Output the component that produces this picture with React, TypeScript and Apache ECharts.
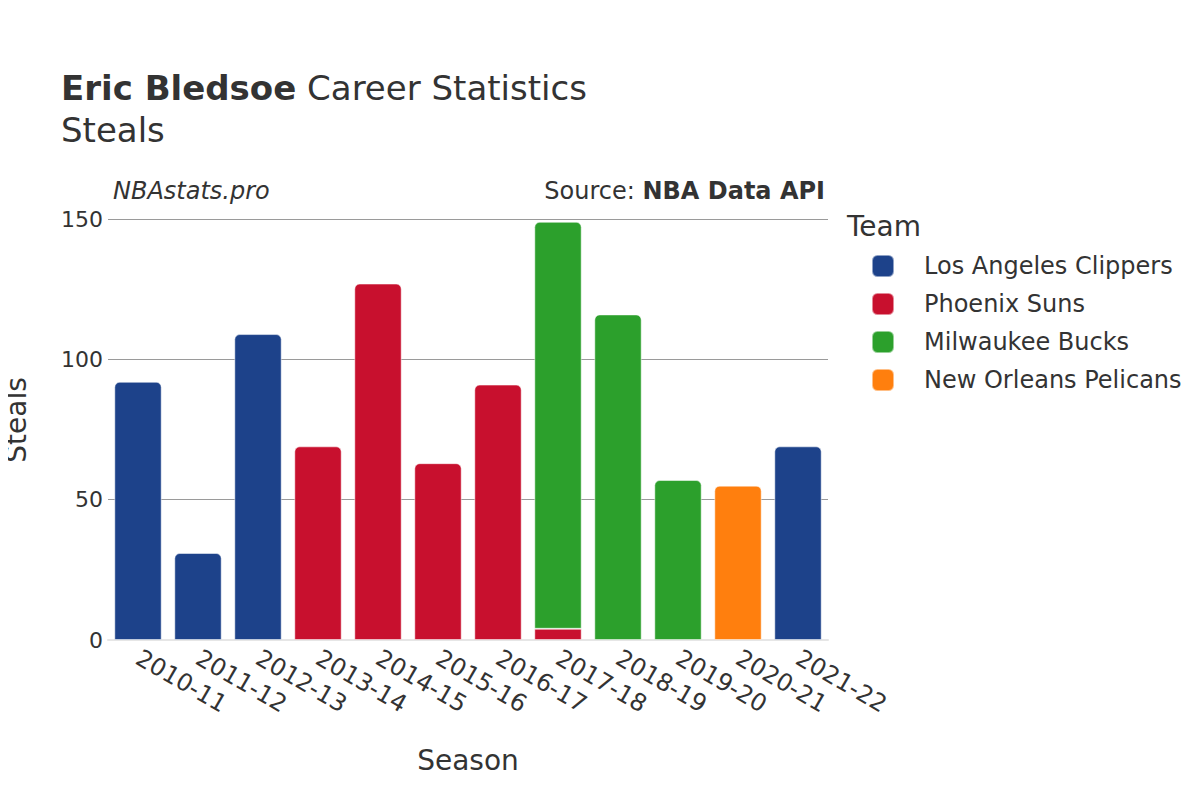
import React, { useEffect, useRef } from "react";
import * as echarts from "echarts";

const seasons = ["2010-11", "2011-12", "2012-13", "2013-14", "2014-15", "2015-16", "2016-17", "2017-18", "2018-19", "2019-20", "2020-21", "2021-22"];
const teams = ["Los Angeles Clippers", "Phoenix Suns", "Milwaukee Bucks", "New Orleans Pelicans"];
const teamColors = ["#1d428a", "#c8102e", "#2ca02c", "#ff7f0e"];
const clippers = [92, 31, 109, null, null, null, null, null, null, null, null, 69];
const suns = [null, null, null, 69, 127, 63, 91, 4, null, null, null, null];
const bucks = [null, null, null, null, null, null, null, 145, 116, 57, null, null];
const pelicans = [null, null, null, null, null, null, null, null, null, null, 55, null];
const yTicks = [0, 50, 100, 150];

const seriesValues = [clippers, suns, bucks, pelicans];

const FONT = "DejaVu Sans, sans-serif";
const TXT = "#333";

export default function App() {
  const ref = useRef<HTMLDivElement>(null);
  useEffect(() => {
    const chart = echarts.init(ref.current!, null, { renderer: "svg" });
    const series = seriesValues.map((vals, si) => ({
      name: teams[si],
      type: "bar",
      stack: "total",
      barCategoryGap: "21%",
      data: vals.map((v, i) => {
        const hasAbove = seriesValues.some((o, oi) => oi > si && o[i] != null);
        return {
          value: v,
          itemStyle: { borderRadius: hasAbove ? 0 : [5, 5, 0, 0] },
        };
      }),
      itemStyle: { color: teamColors[si], borderColor: "rgba(255,255,255,0.5)", borderWidth: 1 },
    }));
    chart.setOption({
      animation: false,
      textStyle: { fontFamily: FONT },
      grid: { left: 108, right: 372, top: 219, bottom: 160 },
      legend: {
        orient: "vertical",
        left: 866,
        top: 249,
        itemWidth: 22,
        itemHeight: 22,
        itemGap: 14,
        icon: "roundRect",
        data: teams,
        textStyle: { fontFamily: FONT, fontSize: 24, color: TXT, padding: [0, 0, 0, 25] },
      },
      graphic: [
        {
          type: "text",
          x: 61,
          y: 88,
          style: {
            text: "{b|Eric Bledsoe} Career Statistics",
            font: `34px ${FONT}`,
            fill: TXT,
            verticalAlign: "middle",
            rich: { b: { fontFamily: FONT, fontSize: 34, fontWeight: "bold", fill: TXT } },
          },
        },
        { type: "text", x: 61, y: 130, style: { text: "Steals", font: `34px ${FONT}`, fill: TXT, verticalAlign: "middle" } },
        { type: "text", x: 847, y: 226, style: { text: "Team", font: `28px ${FONT}`, fill: TXT, verticalAlign: "middle" } },
        { type: "text", x: 113, y: 191, style: { text: "NBAstats.pro", font: `italic 24px ${FONT}`, fill: TXT, verticalAlign: "middle" } },
        {
          type: "text",
          x: 825,
          y: 191,
          style: {
            text: "Source: {b|NBA Data API}",
            font: `24px ${FONT}`,
            fill: TXT,
            align: "right",
            verticalAlign: "middle",
            rich: { b: { fontFamily: FONT, fontSize: 24, fontWeight: "bold", fill: TXT } },
          },
        },
        {
          type: "text",
          x: 16,
          y: 420,
          rotation: Math.PI / 2,
          style: { text: "Steals", font: `28px ${FONT}`, fill: TXT, align: "center", verticalAlign: "middle" },
        },
      ],
      xAxis: {
        type: "category",
        data: seasons,
        name: "Season",
        nameLocation: "middle",
        nameGap: 106,
        nameTextStyle: { fontFamily: FONT, fontSize: 28, color: TXT },
        axisLine: { lineStyle: { color: "#e6e6e6", width: 2 } },
        axisTick: { show: false },
        axisLabel: { rotate: -30, fontFamily: FONT, fontSize: 24, color: TXT, margin: 16, interval: 0 },
      },
      yAxis: {
        type: "value",
        min: 0,
        max: 150,
        interval: 50,
        axisLine: { show: false },
        axisTick: { show: false },
        splitLine: { lineStyle: { color: "#9a9a9a", width: 1 } },
        axisLabel: { fontFamily: FONT, fontSize: 22, color: TXT, margin: 5, formatter: (v: number) => (yTicks.includes(v) ? String(v) : "") },
      },
      series,
    });
    return () => chart.dispose();
  }, []);
  return <div ref={ref} style={{ width: 1200, height: 800, margin: -8 }} />;
}
